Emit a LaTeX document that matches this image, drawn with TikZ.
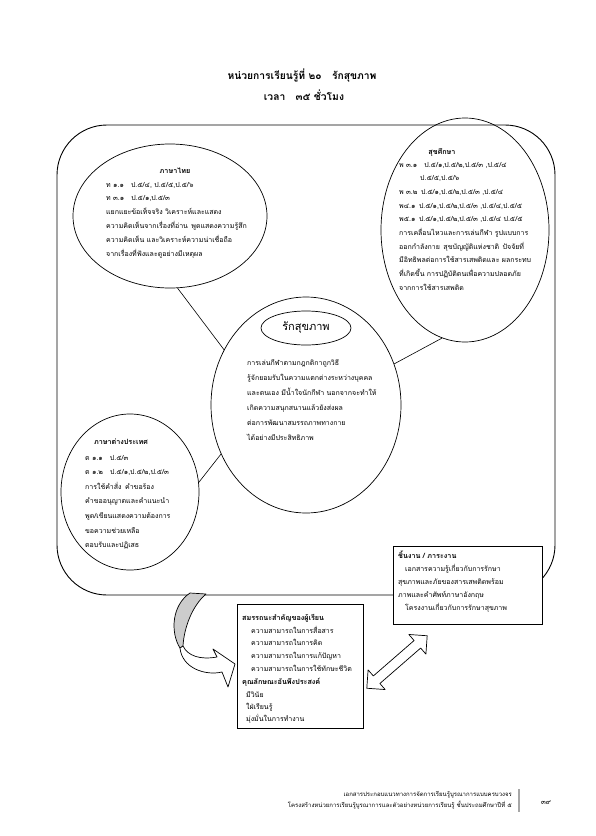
\documentclass[tikz,border=0pt]{standalone}
\usepackage{fontspec}
\newfontfamily\thaifont[Script=Thai]{Loma}
\usetikzlibrary{shapes.geometric}
\tikzset{
  frame/.style={draw, line width=0.9pt, rounded corners=50pt},
  oval/.style={draw, ellipse, inner sep=0pt, line width=0.7pt},
  txt/.style={anchor=base west, inner sep=0pt, font=\thaifont\fontsize{7}{8}\selectfont},
  hd/.style={anchor=base, inner sep=0pt, font=\thaifont\bfseries\fontsize{7.2}{8}\selectfont},
  hdl/.style={anchor=base west, inner sep=0pt, font=\thaifont\bfseries\fontsize{7.2}{8}\selectfont},
  ttl/.style={anchor=base, inner sep=0pt, font=\thaifont\bfseries\fontsize{10.3}{12}\selectfont},
  foot/.style={anchor=base east, inner sep=0pt, font=\thaifont\fontsize{6}{7}\selectfont},
  box/.style={draw, fill=white, line width=0.7pt},
  link/.style={draw, line width=0.6pt},
  blk/.style={draw, line width=0.7pt, line join=round},
}
\begin{document}
\begin{tikzpicture}[x=1pt, y=-1pt]
\useasboundingbox (0,0) rectangle (595,836);
% titles
\node[ttl] (t1) at (302,79) {หน่วยการเรียนรู้ที่ ๒๐\quad รักสุขภาพ};
\node[ttl] (t2) at (304,100) {เวลา\quad ๓๕ ชั่วโมง};
% big frame
\draw[frame] (57,125) rectangle (555,595);
% ellipses
\node[oval, minimum width=194pt, minimum height=144pt] (thai) at (170,216) {};
\node[oval, minimum width=168pt, minimum height=224pt] (hlth) at (465,230) {};
\node[oval, minimum width=190pt, minimum height=216pt] (core) at (306,405) {};
\node[oval, minimum width=138pt, minimum height=156pt] (fore) at (130,492) {};
\node[oval, minimum width=90pt, minimum height=34pt, font=\thaifont\fontsize{11}{12}\selectfont] (topic) at (306,328) {รักสุขภาพ};
% connectors
\draw[link] (thai.-84) -- (core.146);
\draw[link] (hlth.-102) -- (core.25);
\draw[link] (fore.8) -- (core.210);
% Thai language
\node[hd] (thaih) at (175,173) {ภาษาไทย};
\foreach \t [count=\i] in {{ท ๑.๑\quad ป.๕/๔, ป.๕/๕,ป.๕/๖},{ท ๓.๑\quad ป.๕/๑,ป.๕/๓},{แยกแยะข้อเท็จจริง วิเคราะห์และแสดง},{ความคิดเห็นจากเรื่องที่อ่าน\enspace พูดแสดงความรู้สึก},{ความคิดเห็น และวิเคราะห์ความน่าเชื่อถือ},{จากเรื่องที่ฟังและดูอย่างมีเหตุผล}}
  \node[txt] (thai-\i) at (106,{187+13.9*(\i-1)}) {\t};
% Health
\node[hd] (hlthh) at (442,154) {สุขศึกษา};
\foreach \t [count=\i] in {{พ ๓.๑\quad ป.๕/๑,ป.๕/๒,ป.๕/๓ ,ป.๕/๔},{\hspace{21pt}ป.๕/๕,ป.๕/๖},{พ ๓.๒\enspace ป.๕/๑,ป.๕/๒,ป.๕/๓ ,ป.๕/๔},{พ๔.๑\enspace ป.๕/๑,ป.๕/๒,ป.๕/๓ ,ป.๕/๔,ป.๕/๕},{พ๕.๑\enspace ป.๕/๑,ป.๕/๒,ป.๕/๓ ,ป.๕/๔ ป.๕/๕},{การเคลื่อนไหวและการเล่นกีฬา รูปแบบการ},{ออกกำลังกาย\enspace สุขบัญญัติแห่งชาติ\enspace ปัจจัยที่},{มีอิทธิพลต่อการใช้สารเสพติดและ ผลกระทบ},{ที่เกิดขึ้น การปฏิบัติตนเพื่อความปลอดภัย},{จากการใช้สารเสพติด}}
  \node[txt] (hlth-\i) at (399,{167+13.7*(\i-1)}) {\t};
% Core
\foreach \t [count=\i] in {{การเล่นกีฬาตามกฎกติกาถูกวิธี},{รู้จักยอมรับในความแตกต่างระหว่างบุคคล},{และตนเอง มีน้ำใจนักกีฬา นอกจากจะทำให้},{เกิดความสนุกสนานแล้วยังส่งผล},{ต่อการพัฒนาสมรรถภาพทางกาย},{ได้อย่างมีประสิทธิภาพ}}
  \node[txt] (core-\i) at (247,{365+15*(\i-1)}) {\t};
% Foreign language
\node[hd] (foreh) at (121,444) {ภาษาต่างประเทศ};
\foreach \t [count=\i] in {{ต ๑.๑\quad ป.๕/๓},{ต ๑.๒\quad ป.๕/๑,ป.๕/๒,ป.๕/๓},{การใช้คำสั่ง\enspace คำขอร้อง},{คำขออนุญาตและคำแนะนำ},{พูด/เขียนแสดงความต้องการ},{ขอความช่วยเหลือ},{ตอบรับและปฏิเสธ}}
  \node[txt] (fore-\i) at (85,{460+14.6*(\i-1)}) {\t};
% work box
\draw[box] (393,546) rectangle (542,624);
\node[hdl] (workh) at (398,558) {ชิ้นงาน / ภาระงาน};
\node[txt] (work-1) at (405,571) {เอกสารความรู้เกี่ยวกับการรักษา};
\node[txt] (work-2) at (398,584) {สุขภาพและภัยของสารเสพติดพร้อม};
\node[txt] (work-3) at (398,597) {ภาพและคำศัพท์ภาษาอังกฤษ};
\node[txt] (work-4) at (405,610) {โครงงานเกี่ยวกับการรักษาสุขภาพ};
% competency box
\draw[box] (237,604) rectangle (363,728);
\node[hdl] (comph) at (242,620) {สมรรถนะสำคัญของผู้เรียน};
\foreach \t [count=\i] in {{ความสามารถในการสื่อสาร},{ความสามารถในการคิด},{ความสามารถในการแก้ปัญหา},{ความสามารถในการใช้ทักษะชีวิต}}
  \node[txt] (comp-\i) at (251,{633+12.7*(\i-1)}) {\t};
\node[hdl] (charh) at (242,684) {คุณลักษณะอันพึงประสงค์};
\foreach \t [count=\i] in {{มีวินัย},{ใฝ่เรียนรู้},{มุ่งมั่นในการทำงาน}}
  \node[txt] (char-\i) at (246,{697+12.2*(\i-1)}) {\t};
% curved arrow
\filldraw[blk, fill=gray!40] (190,593) .. controls (172,605) and (170,632) .. (180,648)
  -- (183,646) .. controls (184,628) and (192,606) .. (206,594) -- cycle;
\filldraw[blk, fill=white] (180,648) .. controls (182,668) and (205,676) .. (222,672)
  -- (228,687) -- (235,664) -- (213,649) -- (217,657)
  .. controls (200,660) and (188,656) .. (183,646) -- cycle;
% double arrow
\begin{scope}[shift={(397,662)}, rotate=41]
  \filldraw[blk, fill=white] (-40,0) -- (-27,13) -- (-27,5) -- (27,5) -- (27,13) -- (40,0)
    -- (27,-13) -- (27,-5) -- (-27,-5) -- (-27,-13) -- cycle;
\end{scope}
% footer
\node[foot] (f1) at (512,796) {เอกสารประกอบแนวทางการจัดการเรียนรู้บูรณาการแบบครบวงจร};
\node[foot] (f2) at (512,807) {โครงสร้างหน่วยการเรียนรู้บูรณาการและตัวอย่างหน่วยการเรียนรู้ ชั้นประถมศึกษาปีที่ ๕};
\draw[gray!70, line width=1.6pt] (519,789) -- (519,812);
\node[anchor=base, inner sep=0pt, font=\thaifont\fontsize{7}{8}\selectfont] (pg) at (546,804) {๓๙};
\end{tikzpicture}
\end{document}
